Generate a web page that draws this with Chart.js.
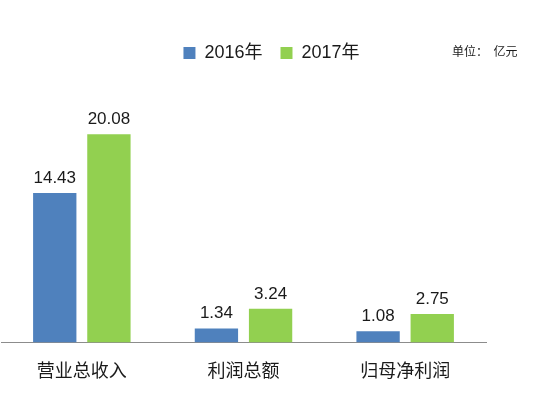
<!DOCTYPE html>
<html>
<head>
<meta charset="utf-8">
<script src="https://cdn.jsdelivr.net/npm/chart.js@4/dist/chart.umd.min.js"></script>
<style>
  html, body { margin: 0; padding: 0; background: #ffffff; }
  #wrap { width: 556px; height: 398px; position: relative; }
</style>
</head>
<body>
<div id="wrap"><canvas id="c" width="556" height="398"></canvas></div>
<script>
const categories = ['营业总收入', '利润总额', '归母净利润'];
const series2016 = [14.43, 1.34, 1.08];
const series2017 = [20.08, 3.24, 2.75];
const seriesNames = ['2016年', '2017年'];
const unitText = '单位：  亿元';

const FONT = "'Liberation Sans', 'Noto Sans CJK SC', sans-serif";
const CJK = "'Noto Sans CJK SC', 'Liberation Sans', sans-serif";

const valueLabels = {
  id: 'valueLabels',
  afterDatasetsDraw(chart) {
    const ctx = chart.ctx;
    ctx.save();
    ctx.font = '17px ' + FONT;
    ctx.fillStyle = '#1a1a1a';
    ctx.textAlign = 'center';
    ctx.textBaseline = 'middle';
    chart.data.datasets.forEach((ds, di) => {
      const meta = chart.getDatasetMeta(di);
      meta.data.forEach((el, i) => {
        ctx.fillText(ds.data[i].toFixed(2), el.x, el.y - 15);
      });
    });
    ctx.restore();
  }
};

const unitLabel = {
  id: 'unitLabel',
  afterDraw(chart) {
    const ctx = chart.ctx;
    ctx.save();
    ctx.font = '12px ' + CJK;
    ctx.fillStyle = '#1a1a1a';
    ctx.textAlign = 'left';
    ctx.textBaseline = 'middle';
    ctx.fillText(unitText, 452, 51);
    ctx.restore();
  }
};

const legendShift = {
  id: 'legendShift',
  afterLayout(chart) {
    if (chart.legend) {
      chart.legend.left += 28;
      chart.legend.right += 28;
    }
  }
};

new Chart(document.getElementById('c'), {
  type: 'bar',
  data: {
    labels: categories,
    datasets: [
      { label: seriesNames[0], data: series2016, backgroundColor: '#4F81BD', borderWidth: 0 },
      { label: seriesNames[1], data: series2017, backgroundColor: '#92D050', borderWidth: 0 }
    ]
  },
  options: {
    responsive: false,
    animation: false,
    devicePixelRatio: 1,
    categoryPercentage: 0.67,
    barPercentage: 0.8,
    layout: { padding: { top: 26, left: 1, right: 70, bottom: 0 } },
    plugins: {
      legend: {
        position: 'top',
        labels: {
          boxWidth: 12,
          boxHeight: 12,
          padding: 18,
          color: '#1a1a1a',
          font: { size: 18, family: FONT }
        }
      },
      tooltip: { enabled: false }
    },
    scales: {
      x: {
        grid: { display: false, drawTicks: false },
        border: { display: true, color: '#8c8c8c', width: 1 },
        ticks: { color: '#1a1a1a', font: { size: 18, family: CJK }, padding: 17 }
      },
      y: {
        display: false,
        min: 0,
        max: 26.1
      }
    }
  },
  plugins: [valueLabels, unitLabel, legendShift]
});
</script>
</body>
</html>
